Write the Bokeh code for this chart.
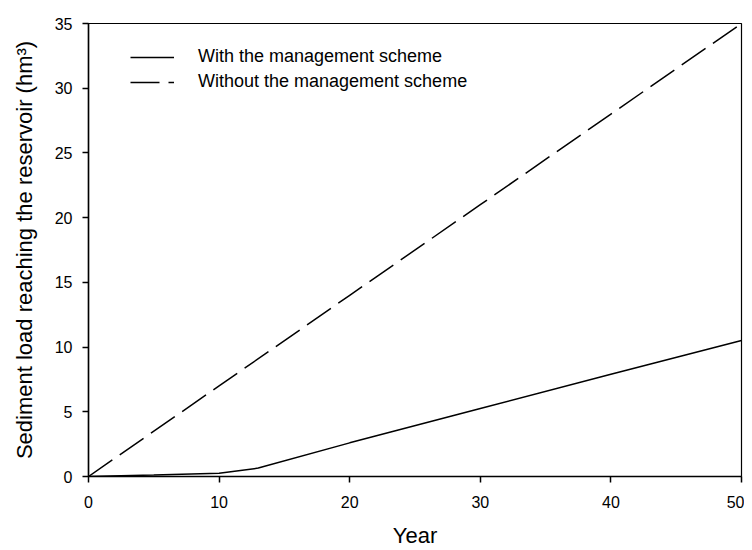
from bokeh.plotting import figure
from bokeh.models import Legend, LegendItem, Range1d, FixedTicker
from bokeh.embed import file_html
from bokeh.resources import INLINE

# Data
year_with = [0, 5, 10, 13, 20, 30, 40, 50]
load_with = [0.0, 0.12, 0.25, 0.65, 2.6, 5.25, 7.9, 10.5]
year_without = [0, 10, 20, 30, 40, 50]
load_without = [0.0, 7.0, 14.0, 21.0, 28.0, 35.0]
x_ticks = [0, 10, 20, 30, 40, 50]
y_ticks = [0, 5, 10, 15, 20, 25, 30, 35]
label_with = "With the management scheme"
label_without = "Without the management scheme"

FONT = "Liberation Sans"

p = figure(width=744, height=550, output_backend="svg", toolbar_location=None,
           x_range=Range1d(0, 50), y_range=Range1d(0, 35),
           min_border_left=88, min_border_right=3, min_border_top=23, min_border_bottom=73)

p.xgrid.visible = False
p.ygrid.visible = False
p.outline_line_color = "black"
p.outline_line_width = 1.2
p.background_fill_color = "white"
p.border_fill_color = "white"

r1 = p.line(year_with, load_with, line_color="black", line_width=1.5)
r2 = p.line(year_without, load_without, line_color="black", line_width=1.5, line_dash="29 9")

for ax in (p.xaxis[0], p.yaxis[0]):
    ax.axis_line_color = "black"
    ax.axis_line_width = 1.5
    ax.major_tick_line_color = "black"
    ax.major_tick_line_width = 1.5
    ax.major_tick_in = 0
    ax.major_tick_out = 6
    ax.minor_tick_line_color = None
    ax.major_label_text_font = FONT
    ax.major_label_text_font_size = "16px"
    ax.major_label_text_color = "black"
    ax.axis_label_text_font = FONT
    ax.axis_label_text_font_size = "22px"
    ax.axis_label_text_font_style = "normal"
    ax.axis_label_text_color = "black"

p.xaxis[0].ticker = FixedTicker(ticks=x_ticks)
p.yaxis[0].ticker = FixedTicker(ticks=y_ticks)
p.xaxis[0].axis_label = "Year"
p.yaxis[0].axis_label = "Sediment load reaching the reservoir (hm\u00b3)"
p.xaxis[0].major_label_standoff = 13
p.yaxis[0].major_label_standoff = 10
p.xaxis[0].axis_label_standoff = 12
p.yaxis[0].axis_label_standoff = 15

legend = Legend(items=[LegendItem(label=label_with, renderers=[r1]),
                       LegendItem(label=label_without, renderers=[r2])],
                location=(42, 384), padding=0, margin=0, spacing=4,
                glyph_width=44, glyph_height=20, label_height=20, label_standoff=24,
                border_line_alpha=0, background_fill_alpha=0,
                label_text_font=FONT, label_text_font_size="18px", label_text_color="black")
p.add_layout(legend)

open("out.html", "w").write(file_html(p, INLINE))
